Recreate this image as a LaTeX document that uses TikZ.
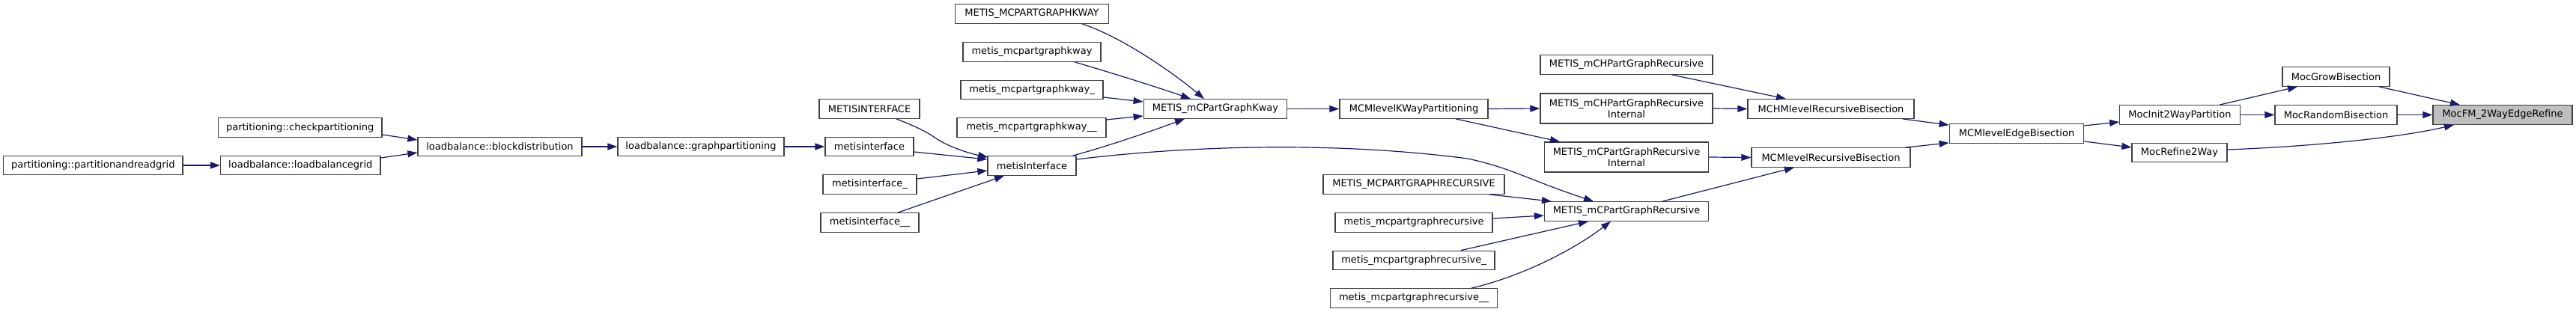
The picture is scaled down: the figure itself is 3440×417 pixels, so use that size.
\documentclass[tikz,border=0pt]{standalone}
\usepackage{fontspec}
\setmainfont{DejaVu Sans}
\usetikzlibrary{arrows.meta}
\definecolor{edgeblue}{HTML}{191970}
\definecolor{nodeborder}{HTML}{404040}
\definecolor{hilite}{HTML}{BFBFBF}
\begin{document}
\begin{tikzpicture}[x=1pt,y=-1pt,
  box/.style={draw=nodeborder, line width=1.3pt, fill=white, inner xsep=0pt, inner ysep=0pt,
    minimum height=25.5pt, font=\fontsize{13}{15}\selectfont, text=black, align=center},
  tall/.style={minimum height=40pt},
  lnk/.style={draw=edgeblue, line width=1.2pt, -{Triangle[length=13pt,width=9pt]}}
]
\useasboundingbox (0,0) rectangle (3440,417);
\fill[white] (0,0) rectangle (3440,417);

% nodes
\node[box, minimum width=239.5pt] (prg) at (124.25,221) {partitioning::partitionandreadgrid};
\node[box, minimum width=218.5pt] (chk) at (400.75,170.5) {partitioning::checkpartitioning};
\node[box, minimum width=213.4pt] (lbg) at (401.3,221) {loadbalance::loadbalancegrid};
\node[box, minimum width=219pt] (bd) at (667.5,196) {loadbalance::blockdistribution};
\node[box, minimum width=222pt] (gp) at (936,196) {loadbalance::graphpartitioning};
\node[box, minimum width=134pt] (MI) at (1161,145.5) {METISINTERFACE};
\node[box, minimum width=118pt] (mi) at (1161,196) {metisinterface};
\node[box, minimum width=125pt] (mi_) at (1161.5,246.5) {metisinterface\_};
\node[box, minimum width=131pt] (mi__) at (1161.5,297.5) {metisinterface\_\_};
\node[box, minimum width=118pt] (mI) at (1378,221.5) {metisInterface};
\node[box, minimum width=204.5pt] (MK) at (1378,18.5) {METIS\_MCPARTGRAPHKWAY};
\node[box, minimum width=184pt] (mk) at (1378,69.5) {metis\_mcpartgraphkway};
\node[box, minimum width=190pt] (mk_) at (1378,120) {metis\_mcpartgraphkway\_};
\node[box, minimum width=199pt] (mk__) at (1377.5,170.5) {metis\_mcpartgraphkway\_\_};
\node[box, minimum width=191.5pt] (PGK) at (1623,145.5) {METIS\_mCPartGraphKway};
\node[box, minimum width=198pt] (KWP) at (1888,145.5) {MCMlevelKWayPartitioning};
\node[box, minimum width=242pt] (MR) at (1888,246.5) {METIS\_MCPARTGRAPHRECURSIVE};
\node[box, minimum width=210pt] (mr) at (1888,297.5) {metis\_mcpartgraphrecursive};
\node[box, minimum width=216pt] (mr_) at (1888,348) {metis\_mcpartgraphrecursive\_};
\node[box, minimum width=222.5pt] (mr__) at (1888,398.5) {metis\_mcpartgraphrecursive\_\_};
\node[box, minimum width=230pt] (CH) at (2172,86.5) {METIS\_mCHPartGraphRecursive};
\node[box, tall, minimum width=230pt] (CHI) at (2172,145) {METIS\_mCHPartGraphRecursive\\Internal};
\node[box, tall, minimum width=219pt] (CPI) at (2172,210) {METIS\_mCPartGraphRecursive\\Internal};
\node[box, minimum width=219pt] (CP) at (2172,282.5) {METIS\_mCPartGraphRecursive};
\node[box, minimum width=222pt] (MCH) at (2445,145.5) {MCHMlevelRecursiveBisection};
\node[box, minimum width=212pt] (MCR) at (2445,210.5) {MCMlevelRecursiveBisection};
\node[box, minimum width=179.5pt] (EB) at (2693,178.5) {MCMlevelEdgeBisection};
\node[box, minimum width=160.5pt] (I2) at (2911,153.5) {MocInit2WayPartition};
\node[box, minimum width=127pt] (R2) at (2910.5,204) {MocRefine2Way};
\node[box, minimum width=143pt] (GB) at (3119.5,102.5) {MocGrowBisection};
\node[box, minimum width=163pt] (RB) at (3119.5,153.5) {MocRandomBisection};
\node[box, fill=hilite, minimum width=186pt] (FM) at (3342,153.5) {MocFM\_2WayEdgeRefine};

% connectors
\draw[lnk] (prg.east) -- (lbg.west);
\draw[lnk] ([shift={(0,9.5)}]chk.east) -- ([shift={(0,-9)}]bd.west);
\draw[lnk] ([shift={(0,-10)}]lbg.east) -- ([shift={(0,8)}]bd.west);
\draw[lnk] (bd.east) -- (gp.west);
\draw[lnk] (gp.east) -- (mi.west);
\draw[lnk] ([shift={(36,0)}]MI.south) .. controls (1220,168) and (1236,175) .. (1250,185)
  .. controls (1265,195) and (1290,204) .. ([shift={(1,2)}]mI.north west);
\draw[lnk] ([shift={(0,7)}]mi.east) -- ([shift={(0,-8.5)}]mI.west);
\draw[lnk] ([shift={(0,-7.5)}]mi_.east) -- ([shift={(0,6.5)}]mI.west);
\draw[lnk] ([shift={(37.5,0)}]mi__.north) -- ([shift={(-37,0)}]mI.south);
\draw[lnk] ([shift={(67,0)}]MK.south) .. controls (1500,50) and (1570,100) .. ([shift={(-15,0)}]PGK.north);
\draw[lnk] ([shift={(57,0)}]mk.south) .. controls (1480,96) and (1550,118) .. ([shift={(-33,0)}]PGK.north);
\draw[lnk] ([shift={(0,10)}]mk_.east) -- ([shift={(0,-9.5)}]PGK.west);
\draw[lnk] ([shift={(0,-10.5)}]mk__.east) -- ([shift={(0,9.5)}]PGK.west);
\draw[lnk] ([shift={(-5,0)}]mI.north east) .. controls (1480,195) and (1530,178) .. ([shift={(-41,0)}]PGK.south);
\draw[lnk] ([shift={(0,-8.5)}]mI.east) .. controls (1560,198) and (1760,186) .. (1960,212)
  .. controls (2020,225) and (2040,240) .. ([shift={(-44,0)}]CP.north);
\draw[lnk] (PGK.east) -- (KWP.west);
\draw[lnk] (KWP.east) -- (CHI.west);
\draw[lnk] ([shift={(56,0)}]KWP.south) -- ([shift={(-89,0)}]CPI.north);
\draw[lnk] ([shift={(100.5,0)}]MR.south) -- ([shift={(-100,0)}]CP.north);
\draw[lnk] ([shift={(0,-5.5)}]mr.east) -- ([shift={(0,5.5)}]CP.west);
\draw[lnk] ([shift={(63,0)}]mr_.north) -- ([shift={(-51,0)}]CP.south);
\draw[lnk] ([shift={(77,0)}]mr__.north) .. controls (2030,370) and (2100,335) .. ([shift={(-21,0)}]CP.south);
\draw[lnk] ([shift={(60.5,0)}]CH.south) -- ([shift={(-60,0)}]MCH.north);
\draw[lnk] (CHI.east) -- (MCH.west);
\draw[lnk] (CPI.east) -- (MCR.west);
\draw[lnk] ([shift={(48,0)}]CP.north) -- ([shift={(-49,0)}]MCR.south);
\draw[lnk] ([shift={(-16,0)}]MCH.south east) -- ([shift={(0,2)}]EB.north west);
\draw[lnk] ([shift={(-7,0)}]MCR.north east) -- ([shift={(0,-1)}]EB.south west);
\draw[lnk] ([shift={(0,-10.5)}]EB.east) -- ([shift={(0,9.5)}]I2.west);
\draw[lnk] ([shift={(0,10.5)}]EB.east) -- ([shift={(0,-7)}]R2.west);
\draw[lnk] ([shift={(53,0)}]I2.north) -- ([shift={(-51.5,0)}]GB.south);
\draw[lnk] (I2.east) -- (RB.west);
\draw[lnk] ([shift={(57.5,0)}]GB.south) -- ([shift={(-57,0)}]FM.north);
\draw[lnk] (RB.east) -- (FM.west);
\draw[lnk] ([shift={(0,-4)}]R2.east) .. controls (3080,196) and (3200,185) .. ([shift={(-65,0)}]FM.south);
\end{tikzpicture}
\end{document}
